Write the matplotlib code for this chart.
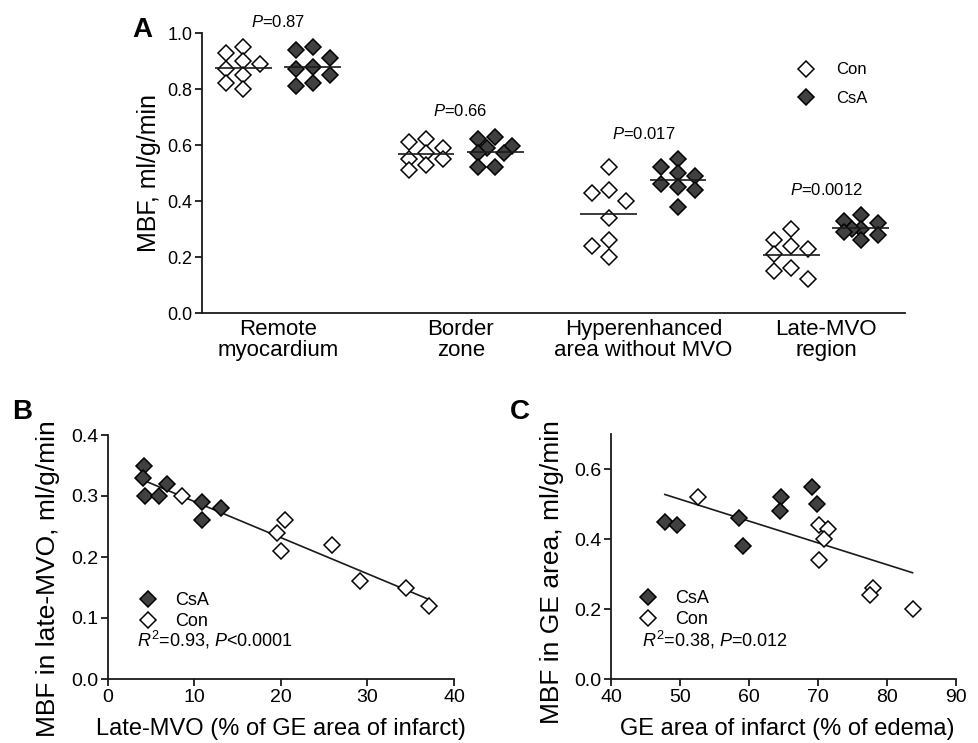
import numpy as np
import matplotlib
matplotlib.use("Agg")
import matplotlib.pyplot as plt

plt.rcParams['font.family'] = ['Liberation Sans', 'DejaVu Sans']
plt.rcParams['mathtext.fontset'] = 'custom'
plt.rcParams['mathtext.rm'] = 'Liberation Sans'
plt.rcParams['mathtext.it'] = 'Liberation Sans:italic'

# ---- panel A data ----
regions = ['Remote\nmyocardium', 'Border\nzone', 'Hyperenhanced\narea without MVO', 'Late-MVO\nregion']
con_mbf = [
    [0.95, 0.93, 0.90, 0.89, 0.87, 0.85, 0.82, 0.80],
    [0.62, 0.61, 0.59, 0.57, 0.55, 0.55, 0.53, 0.51],
    [0.52, 0.44, 0.43, 0.40, 0.34, 0.26, 0.24, 0.20],
    [0.30, 0.26, 0.24, 0.23, 0.21, 0.16, 0.15, 0.12],
]
csa_mbf = [
    [0.95, 0.94, 0.91, 0.88, 0.87, 0.85, 0.82, 0.81],
    [0.63, 0.62, 0.595, 0.589, 0.57, 0.57, 0.52, 0.52],
    [0.55, 0.52, 0.50, 0.49, 0.46, 0.45, 0.44, 0.38],
    [0.35, 0.33, 0.32, 0.30, 0.30, 0.29, 0.28, 0.26],
]
p_values = ['0.87', '0.66', '0.017', '0.0012']

# ---- panel B data ----
b_csa_x = [4.2, 4.1, 4.3, 5.9, 6.8, 10.9, 10.9, 13.1]
b_csa_y = [0.35, 0.33, 0.30, 0.30, 0.32, 0.29, 0.26, 0.28]
b_con_x = [8.5, 19.5, 20.5, 20.0, 25.9, 29.1, 34.4, 37.1]
b_con_y = [0.30, 0.24, 0.26, 0.21, 0.22, 0.16, 0.15, 0.12]

# ---- panel C data ----
c_csa_x = [47.8, 49.5, 58.6, 59.2, 64.7, 64.5, 69.2, 69.8]
c_csa_y = [0.45, 0.44, 0.46, 0.38, 0.52, 0.48, 0.55, 0.50]
c_con_x = [52.6, 70.2, 71.5, 70.8, 70.2, 78.0, 77.6, 83.7]
c_con_y = [0.52, 0.44, 0.43, 0.40, 0.34, 0.26, 0.24, 0.20]

DARK = '#404040'
INK = '#1a1a1a'
W, H = 979, 743
MS = 8.2


def swarm(vals, px_x, px_y, diam=13.0, step=17.0):
    # column-scatter layout: keep points within +-1 step, least overlap wins
    vals = np.asarray(vals, dtype=float)
    offs = np.zeros(len(vals))
    placed = []
    cands = [0, -1, 1, -0.5, 0.5]
    for i in np.argsort(-vals):
        yv = vals[i] * px_y
        best, best_d = 0.0, -1
        for k in cands:
            xo = k * step
            d = min([np.hypot(xo - a, yv - b) for a, b in placed] or [1e9])
            if d >= diam:
                best = xo
                break
            if d > best_d:
                best, best_d = xo, d
        placed.append((best, yv))
        offs[i] = best / px_x
    return offs


def style_axes(ax, fs):
    for s in ['top', 'right']:
        ax.spines[s].set_visible(False)
    for s in ['left', 'bottom']:
        ax.spines[s].set_linewidth(1.3)
        ax.spines[s].set_color(INK)
    ax.tick_params(direction='out', length=5, width=1.3, color=INK, labelsize=fs, pad=2)


fig = plt.figure(figsize=(W / 100, H / 100), dpi=100)

# ================= panel A =================
axA = fig.add_axes([202 / W, 1 - 313 / H, 703 / W, 280 / H])
xlim = (-0.416, 3.432)
axA.set_xlim(*xlim)
axA.set_ylim(0, 1.0)
px_x = 703 / (xlim[1] - xlim[0])
px_y = 280.0
shift = 0.19
for i in range(len(regions)):
    for vals, dx, face, lab in [(con_mbf[i], -shift, 'white', 'Con'), (csa_mbf[i], shift, DARK, 'CsA')]:
        xs = i + dx + swarm(vals, px_x, px_y)
        axA.plot(xs, vals, 'D', ms=MS, mfc=face, mec='black', mew=1.1, ls='none',
                 label=lab if i == 0 else None, zorder=3)
        m = np.mean(vals)
        axA.hlines(m, i + dx - 0.155, i + dx + 0.155, color=INK, lw=1.2, zorder=4)
    top = max(max(con_mbf[i]), max(csa_mbf[i]))
    axA.text(i, top + 0.09, r'$\it{P}$=' + p_values[i], ha='center', va='center', fontsize=12)

style_axes(axA, 13)
axA.set_xticks(range(len(regions)))
axA.set_xticklabels(regions, fontsize=16, linespacing=1.05)
axA.tick_params(axis='x', length=0, pad=4)
axA.set_yticks(np.arange(0, 1.01, 0.2))
axA.set_yticklabels(['%.1f' % v for v in np.arange(0, 1.01, 0.2)])
axA.set_ylabel('MBF, ml/g/min', fontsize=18)
axA.yaxis.set_label_coords(-0.058, 0.5)
axA.legend(loc='upper left', bbox_to_anchor=(0.836, 0.895), frameon=False, fontsize=12,
           borderpad=0, borderaxespad=0, handlelength=2.0, handletextpad=0.8, labelspacing=0.8)


def scatter_panel(ax, csa_x, csa_y, con_x, con_y, leg_xy, txt_xy, stat):
    ax.plot(csa_x, csa_y, 'D', ms=MS, mfc=DARK, mec='black', mew=1.1, ls='none', label='CsA', zorder=3)
    ax.plot(con_x, con_y, 'D', ms=MS, mfc='white', mec='black', mew=1.1, ls='none', label='Con', zorder=3)
    allx = np.array(csa_x + con_x)
    ally = np.array(csa_y + con_y)
    k, b = np.polyfit(allx, ally, 1)
    xx = np.array([allx.min(), allx.max()])
    ax.plot(xx, k * xx + b, color=INK, lw=1.2, zorder=2)
    ax.legend(loc='upper left', bbox_to_anchor=leg_xy, frameon=False, fontsize=13,
              borderpad=0, borderaxespad=0, handlelength=1.2, handletextpad=0.9, labelspacing=0.2)
    ax.text(txt_xy[0], txt_xy[1], stat, transform=ax.transAxes, fontsize=13, va='center', ha='left')
    style_axes(ax, 14)


# ================= panel B =================
axB = fig.add_axes([108 / W, 1 - 679 / H, 346 / W, 244 / H])
axB.set_xlim(0, 40)
axB.set_ylim(0, 0.4)
scatter_panel(axB, b_csa_x, b_csa_y, b_con_x, b_con_y, (0.084, 0.355), (0.084, 0.16),
              r'$\it{R}^2$=0.93, $\it{P}$<0.0001')
axB.set_xticks(range(0, 41, 10))
axB.set_yticks(np.arange(0, 0.41, 0.1))
axB.set_yticklabels(['%.1f' % v for v in np.arange(0, 0.41, 0.1)])
axB.set_xlabel('Late-MVO (% of GE area of infarct)', fontsize=17)
axB.xaxis.set_label_coords(0.5, -0.16)
axB.set_ylabel('MBF in late-MVO, ml/g/min', fontsize=19)
axB.yaxis.set_label_coords(-0.14, 0.41)

# ================= panel C =================
axC = fig.add_axes([611 / W, 1 - 679 / H, 345 / W, 245 / H])
axC.set_xlim(40, 90)
axC.set_ylim(0, 0.7)
scatter_panel(axC, c_csa_x, c_csa_y, c_con_x, c_con_y, (0.075, 0.362), (0.09, 0.159),
              r'$\it{R}^2$=0.38, $\it{P}$=0.012')
axC.set_xticks(range(40, 91, 10))
axC.set_yticks(np.arange(0, 0.61, 0.2))
axC.set_yticklabels(['%.1f' % v for v in np.arange(0, 0.61, 0.2)])
axC.set_xlabel('GE area of infarct (% of edema)', fontsize=17)
axC.xaxis.set_label_coords(0.51, -0.16)
axC.set_ylabel('MBF in GE area, ml/g/min', fontsize=19)
axC.yaxis.set_label_coords(-0.135, 0.437)

# panel letters
fig.text(142 / W, 1 - 30 / H, 'A', fontsize=20, fontweight='bold', ha='center', va='center')
fig.text(22 / W, 1 - 412 / H, 'B', fontsize=20, fontweight='bold', ha='center', va='center')
fig.text(520 / W, 1 - 412 / H, 'C', fontsize=20, fontweight='bold', ha='center', va='center')

fig.savefig('out.png', dpi=100)
